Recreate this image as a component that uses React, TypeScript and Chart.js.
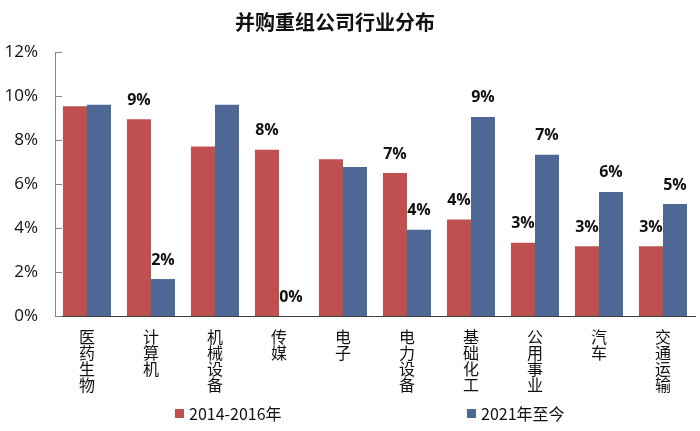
import React, { useEffect, useRef } from "react";
import { Chart, registerables } from "chart.js";

Chart.register(...registerables);

const categories = ["医药生物", "计算机", "机械设备", "传媒", "电子", "电力设备", "基础化工", "公用事业", "汽车", "交通运输"];
const seriesNames = ["2014-2016年", "2021年至今"];
const values2014 = [9.53, 8.94, 7.71, 7.56, 7.12, 6.5, 4.39, 3.33, 3.17, 3.17];
const values2021 = [9.6, 1.68, 9.6, 0, 6.77, 3.92, 9.05, 7.33, 5.64, 5.09];
const labels2014 = [null, "9%", null, "8%", null, "7%", "4%", "3%", "3%", "3%"];
const labels2021 = [null, "2%", null, "0%", null, "4%", "9%", "7%", "6%", "5%"];
const yTicks = [0, 2, 4, 6, 8, 10, 12];
const title = "并购重组公司行业分布";

const RED = "#C0504D";
const BLUE = "#4E6896";
const CJK = '"Noto Sans CJK SC", "Noto Sans", sans-serif';
const LATIN = '"Open Sans", "Noto Sans", sans-serif';

const decor = {
  id: "decor",
  afterDatasetsDraw(chart: any) {
    const ctx = chart.ctx;
    const area = chart.chartArea;
    const y = chart.scales.y;
    ctx.save();
    // inner tick marks on y axis
    ctx.strokeStyle = "#868686";
    ctx.lineWidth = 1;
    yTicks.forEach((t) => {
      const py = Math.round(y.getPixelForValue(t)) + 0.5;
      ctx.beginPath();
      ctx.moveTo(area.left, py);
      ctx.lineTo(area.left + 7, py);
      ctx.stroke();
    });
    // data labels
    ctx.fillStyle = "#111";
    ctx.font = `bold 16px ${LATIN}`;
    ctx.textAlign = "center";
    ctx.textBaseline = "middle";
    const lbls = [labels2014, labels2021];
    lbls.forEach((arr, di) => {
      const meta = chart.getDatasetMeta(di);
      arr.forEach((txt, i) => {
        if (!txt) return;
        const el = meta.data[i];
        ctx.fillText(txt, el.x, el.y - 19);
      });
    });
    // title
    ctx.font = `bold 20px ${CJK}`;
    ctx.fillStyle = "#111";
    ctx.fillText(title, 335, 22);
    // legend
    ctx.textAlign = "left";
    ctx.font = `16px ${CJK}`;
    const items = [
      { x: 175, color: RED, text: seriesNames[0] },
      { x: 467, color: BLUE, text: seriesNames[1] },
    ];
    items.forEach((it) => {
      ctx.fillStyle = it.color;
      ctx.fillRect(it.x, 409, 9, 9);
      ctx.fillStyle = "#111";
      ctx.fillText(it.text, it.x + 14, 414);
    });
    ctx.restore();
  },
};

export default function App() {
  const ref = useRef<HTMLCanvasElement | null>(null);
  useEffect(() => {
    document.body.style.margin = "0";
    const chart = new Chart(ref.current as HTMLCanvasElement, {
      type: "bar",
      data: {
        labels: categories.map((c) => c.split("")),
        datasets: [
          { label: seriesNames[0], data: values2014, backgroundColor: RED, categoryPercentage: 0.75, barPercentage: 1 },
          { label: seriesNames[1], data: values2021, backgroundColor: BLUE, categoryPercentage: 0.75, barPercentage: 1 },
        ],
      },
      options: {
        responsive: false,
        animation: false,
        layout: { padding: { top: 52, right: 5, bottom: 0, left: 0 } },
        plugins: { legend: { display: false }, title: { display: false }, tooltip: { enabled: false } },
        scales: {
          x: {
            grid: { display: false, drawTicks: false },
            border: { display: true, color: "#404040", width: 1 },
            ticks: {
              color: "#111",
              font: { family: CJK, size: 16, lineHeight: 1.0 },
              padding: 13,
              maxRotation: 0,
              autoSkip: false,
            },
            afterFit: (s: any) => { s.height = 115; },
          },
          y: {
            min: 0,
            max: 12,
            grid: { display: false, drawTicks: false },
            border: { display: true, color: "#868686", width: 1 },
            afterBuildTicks: (s: any) => { s.ticks = yTicks.map((v) => ({ value: v })); },
            ticks: {
              color: "#111",
              font: { family: LATIN, size: 17 },
              padding: 17,
              callback: (v: any) => v + "%",
            },
            afterFit: (s: any) => { s.width = 55; },
          },
        },
      },
      plugins: [decor],
    });
    return () => chart.destroy();
  }, []);
  return <canvas ref={ref} width={700} height={431} style={{ display: "block" }} />;
}
